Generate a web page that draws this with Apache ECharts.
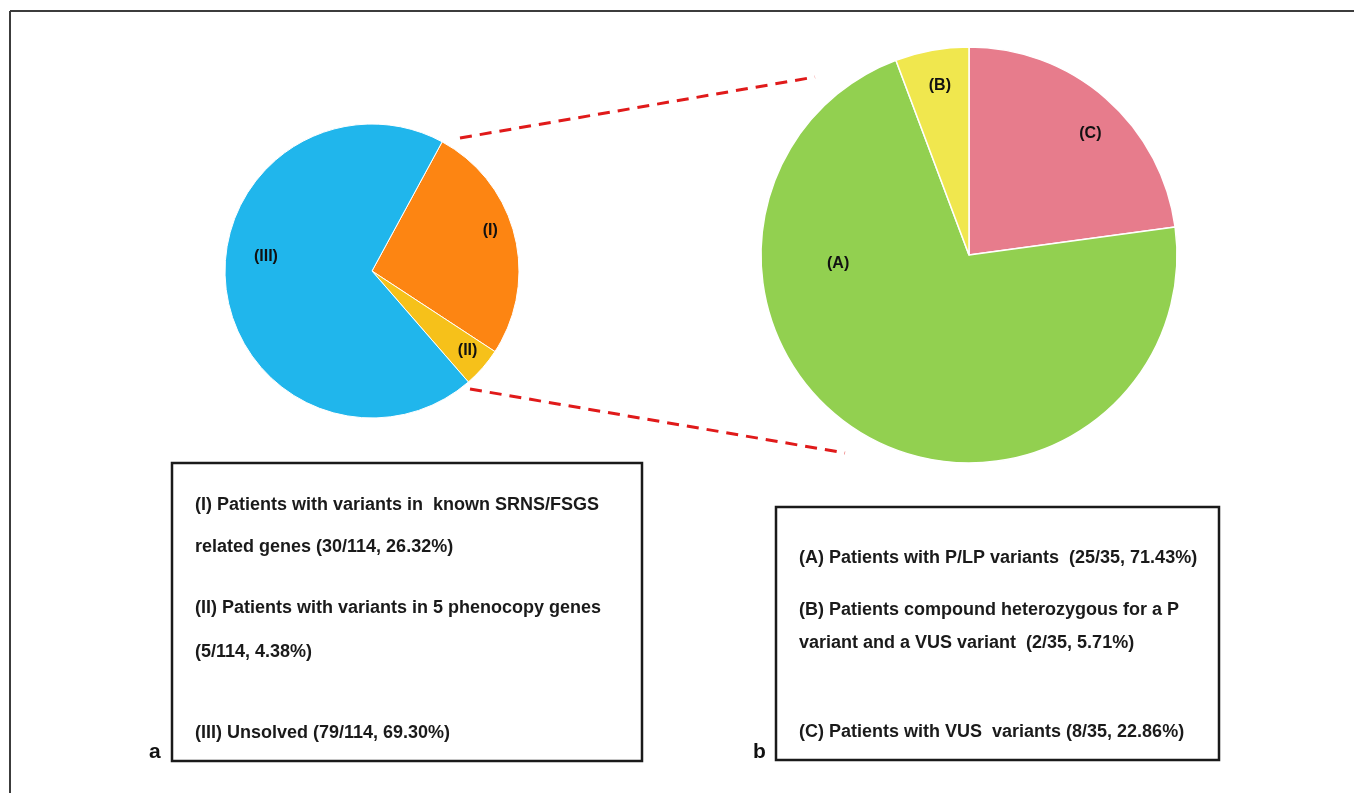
<!DOCTYPE html>
<html>
<head>
<meta charset="utf-8">
<script src="https://cdn.jsdelivr.net/npm/echarts@6/dist/echarts.min.js"></script>
<style>
  html, body { margin: 0; padding: 0; background: #fff; }
  #main { width: 1354px; height: 793px; }
</style>
</head>
<body>
<div id="main"></div>
<script>
// panel a: all patients
const groupsA = ['(I)', '(II)', '(III)'];
const countsA = [30, 5, 79];
const colorsA = ['#fd8512', '#f6c11a', '#20b6ec'];
// label nudges for panel a (pixels)
const offsetsA = [[44, -22], [38, 29], [-30, -23]];

// panel b: breakdown of group (I)
const groupsB = ['(C)', '(A)', '(B)'];
const countsB = [8, 25, 2];
const colorsB = ['#e77c8c', '#92d050', '#f0e74e'];
const offsetsB = [[51, -41], [-76, -83], [-10, -64]];

const legendA = [
    '(I) Patients with variants in  known SRNS/FSGS',
    'related genes (30/114, 26.32%)',
    '(II) Patients with variants in 5 phenocopy genes',
    '(5/114, 4.38%)',
    '(III) Unsolved (79/114, 69.30%)'
];
const legendAy = [505, 547, 608, 652, 733];

const legendB = [
    '(A) Patients with P/LP variants  (25/35, 71.43%)',
    '(B) Patients compound heterozygous for a P',
    'variant and a VUS variant  (2/35, 5.71%)',
    '(C) Patients with VUS  variants (8/35, 22.86%)'
];
const legendBy = [558, 610, 643, 732];

const font = '"Liberation Sans", Arial, sans-serif';

function pieData(names, vals, colors, offs) {
    return names.map((n, i) => ({
        name: n,
        value: vals[i],
        itemStyle: { color: colors[i] },
        label: { offset: offs[i] }
    }));
}

function textLines(lines, ys, x) {
    return lines.map((t, i) => ({
        type: 'text',
        x: x,
        y: ys[i],
        style: {
            text: t,
            fill: '#1a1a1a',
            font: 'bold 18px ' + font,
            textVerticalAlign: 'middle'
        }
    }));
}

let myChart = echarts.init(document.getElementById('main'));

const dashStyle = { stroke: '#e01a1a', lineWidth: 3, lineDash: [12, 8] };
const boxStyle = { fill: 'none', stroke: '#1a1a1a', lineWidth: 2.5 };
const pieLabel = {
    position: 'inside',
    formatter: '{b}',
    color: '#111',
    fontSize: 16,
    fontWeight: 'bold',
    fontFamily: font
};

myChart.setOption({
    backgroundColor: '#fff',
    animation: false,
    series: [{
        type: 'pie',
        center: [372, 271],
        radius: 147,
        startAngle: 61.5,
        clockwise: true,
        silent: true,
        itemStyle: { borderColor: '#fff', borderWidth: 1 },
        label: pieLabel,
        labelLine: { show: false },
        data: pieData(groupsA, countsA, colorsA, offsetsA)
    }, {
        type: 'pie',
        center: [969, 255],
        radius: 208,
        startAngle: 90,
        clockwise: true,
        silent: true,
        itemStyle: { borderColor: '#fff', borderWidth: 1.5 },
        label: pieLabel,
        labelLine: { show: false },
        data: pieData(groupsB, countsB, colorsB, offsetsB)
    }],
    graphic: [
        // outer frame (open on right and bottom)
        { type: 'line', shape: { x1: 10, y1: 11, x2: 1354, y2: 11 }, style: { stroke: '#3c3c3c', lineWidth: 2 } },
        { type: 'line', shape: { x1: 10, y1: 11, x2: 10, y2: 793 }, style: { stroke: '#3c3c3c', lineWidth: 2 } },
        // zoom lines
        { type: 'line', shape: { x1: 460, y1: 138, x2: 815, y2: 77 }, style: dashStyle },
        { type: 'line', shape: { x1: 470, y1: 389, x2: 845, y2: 453 }, style: dashStyle },
        // legend boxes
        { type: 'rect', shape: { x: 172, y: 463, width: 470, height: 298 }, style: boxStyle },
        { type: 'rect', shape: { x: 776, y: 507, width: 443, height: 253 }, style: boxStyle },
        ...textLines(legendA, legendAy, 195),
        ...textLines(legendB, legendBy, 799),
        { type: 'text', x: 149, y: 752, style: { text: 'a', fill: '#111', font: 'bold 21px ' + font, textVerticalAlign: 'middle' } },
        { type: 'text', x: 753, y: 752, style: { text: 'b', fill: '#111', font: 'bold 21px ' + font, textVerticalAlign: 'middle' } }
    ]
});
</script>
</body>
</html>
